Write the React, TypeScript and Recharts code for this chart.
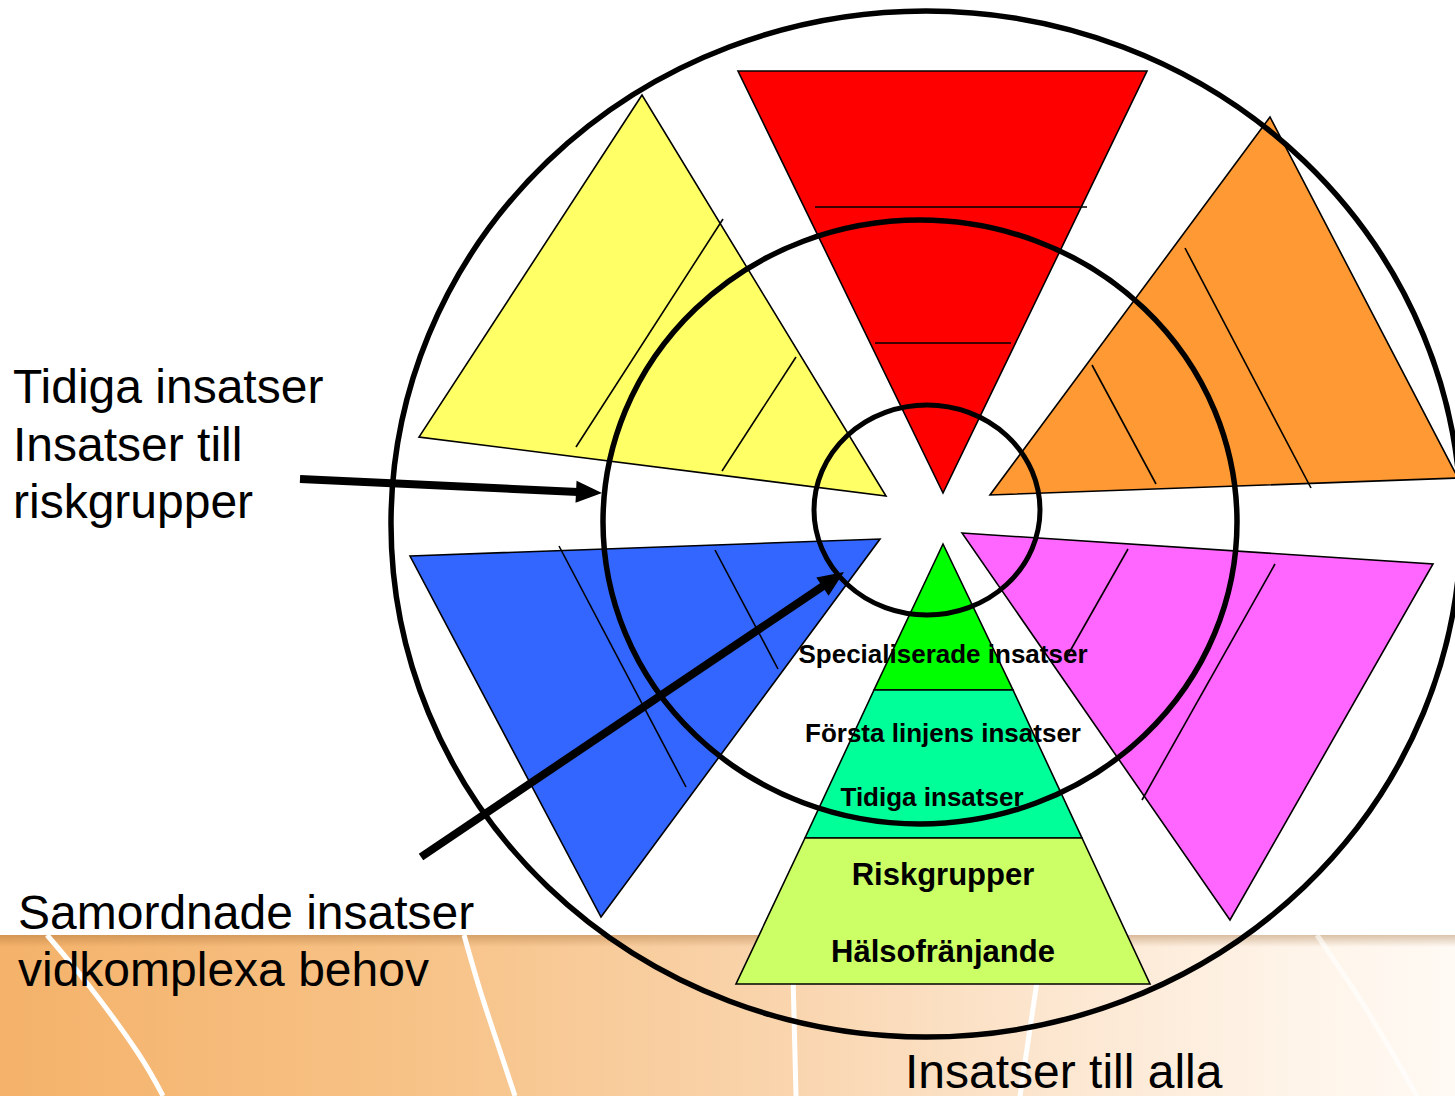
import { ComposedChart, Scatter, XAxis, YAxis } from 'recharts';

type Pt = { x: number; y: number };

// diagram units: x 0..1455 left to right, y 0..1096 top to bottom

// triangles around the wheel
const RED: Pt[] = [{ x: 738, y: 71 }, { x: 1147, y: 71 }, { x: 943, y: 493 }];
const YELLOW: Pt[] = [{ x: 642, y: 95 }, { x: 419, y: 437 }, { x: 886, y: 496 }];
const ORANGE: Pt[] = [{ x: 1270, y: 117 }, { x: 990, y: 495 }, { x: 1458, y: 478 }];
const BLUE: Pt[] = [{ x: 410, y: 556 }, { x: 880, y: 539 }, { x: 601, y: 917 }];
const MAGENTA: Pt[] = [{ x: 962, y: 533 }, { x: 1433, y: 564 }, { x: 1230, y: 920 }];

// thin lines inside the triangles (pairs of end points)
const RED_LINES: Pt[] = [
  { x: 815, y: 207 }, { x: 1087, y: 207 },
  { x: 875, y: 343 }, { x: 1011, y: 343 },
];
const YELLOW_LINES: Pt[] = [
  { x: 723, y: 219 }, { x: 576, y: 447 },
  { x: 796, y: 357 }, { x: 722, y: 471 },
];
const ORANGE_LINES: Pt[] = [
  { x: 1185, y: 248 }, { x: 1311, y: 488 },
  { x: 1092, y: 365 }, { x: 1156, y: 484 },
];
const BLUE_LINES: Pt[] = [
  { x: 559, y: 546 }, { x: 686, y: 787 },
  { x: 715, y: 550 }, { x: 778, y: 669 },
];
const MAGENTA_LINES: Pt[] = [
  { x: 1128, y: 549 }, { x: 1065, y: 660 },
  { x: 1275, y: 564 }, { x: 1142, y: 800 },
];

// pyramid layers
const PYR_TOP: Pt[] = [{ x: 943, y: 544 }, { x: 1013, y: 690 }, { x: 874, y: 690 }];
const PYR_MID: Pt[] = [{ x: 874, y: 690 }, { x: 1013, y: 690 }, { x: 1082, y: 838 }, { x: 805, y: 838 }];
const PYR_BASE: Pt[] = [{ x: 805, y: 838 }, { x: 1082, y: 838 }, { x: 1150, y: 984 }, { x: 736, y: 984 }];

// rings: centre, right edge, top edge
const OUTER_RING: Pt[] = [{ x: 926, y: 524 }, { x: 1461, y: 524 }, { x: 926, y: 11 }];
const MIDDLE_RING: Pt[] = [{ x: 920, y: 522 }, { x: 1237, y: 522 }, { x: 920, y: 220 }];
const INNER_RING: Pt[] = [{ x: 927, y: 510 }, { x: 1040, y: 510 }, { x: 927, y: 405 }];

// arrows: start, tip
const ARROW_RISK: Pt[] = [{ x: 300, y: 479 }, { x: 602, y: 493 }];
const ARROW_COMPLEX: Pt[] = [{ x: 421, y: 857 }, { x: 844, y: 572 }];

// white streaks on the bottom band
const STREAK_A: Pt[] = [{ x: 47, y: 935 }, { x: 90, y: 987 }, { x: 138, y: 1053 }, { x: 163, y: 1096 }];
const STREAK_B: Pt[] = [{ x: 464, y: 935 }, { x: 480, y: 990 }, { x: 498, y: 1045 }, { x: 515, y: 1096 }];
const STREAK_C: Pt[] = [{ x: 792, y: 935 }, { x: 794, y: 1015 }, { x: 796, y: 1096 }];
const STREAK_D: Pt[] = [{ x: 1044, y: 935 }, { x: 1032, y: 1015 }, { x: 1020, y: 1096 }];
const STREAK_E: Pt[] = [{ x: 1317, y: 935 }, { x: 1368, y: 1012 }, { x: 1417, y: 1096 }];

type Label = Pt & { text: string; size: number; bold?: boolean; anchor?: 'start' | 'middle' };

const SIDE_LABELS: Label[] = [
  { x: 13, y: 403, text: 'Tidiga insatser', size: 48 },
  { x: 13, y: 461, text: 'Insatser till', size: 48 },
  { x: 13, y: 518, text: 'riskgrupper', size: 48 },
  { x: 18, y: 929, text: 'Samordnade insatser', size: 48 },
  { x: 18, y: 986, text: 'vidkomplexa behov', size: 48 },
  { x: 905, y: 1088, text: 'Insatser till alla', size: 48 },
];

const PYRAMID_LABELS: Label[] = [
  { x: 943, y: 663, text: 'Specialiserade insatser', size: 26, bold: true, anchor: 'middle' },
  { x: 943, y: 742, text: 'Första linjens insatser', size: 26, bold: true, anchor: 'middle' },
  { x: 932, y: 806, text: 'Tidiga insatser', size: 26, bold: true, anchor: 'middle' },
  { x: 943, y: 885, text: 'Riskgrupper', size: 31, bold: true, anchor: 'middle' },
  { x: 943, y: 962, text: 'Hälsofränjande', size: 31, bold: true, anchor: 'middle' },
];

const FONT = '"Liberation Sans", Arial, sans-serif';

const noDot = () => <g />;

const polygonLine = (fill: string) => (p: any) => (
  <polygon
    points={p.points.map((q: Pt) => `${q.x},${q.y}`).join(' ')}
    fill={fill}
    stroke="#000"
    strokeWidth={1.6}
    strokeLinejoin="miter"
  />
);

const segmentsLine = (p: any) => {
  const pts: Pt[] = p.points;
  const out = [];
  for (let i = 0; i + 1 < pts.length; i += 2) {
    out.push(
      <line key={i} x1={pts[i].x} y1={pts[i].y} x2={pts[i + 1].x} y2={pts[i + 1].y} stroke="#000" strokeWidth={1.6} />
    );
  }
  return <g>{out}</g>;
};

const ringLine = (width: number) => (p: any) => {
  const [c, r, t] = p.points as Pt[];
  return (
    <ellipse
      cx={c.x}
      cy={c.y}
      rx={Math.abs(r.x - c.x)}
      ry={Math.abs(c.y - t.y)}
      fill="none"
      stroke="#000"
      strokeWidth={width}
    />
  );
};

const arrowLine = (p: any) => {
  const [a, b] = p.points as Pt[];
  const dx = b.x - a.x;
  const dy = b.y - a.y;
  const len = Math.sqrt(dx * dx + dy * dy);
  const ux = dx / len;
  const uy = dy / len;
  const headLen = 26;
  const half = 11;
  const bx = b.x - ux * headLen;
  const by = b.y - uy * headLen;
  return (
    <g>
      <line x1={a.x} y1={a.y} x2={bx + ux * 2} y2={by + uy * 2} stroke="#000" strokeWidth={8} />
      <polygon
        points={`${b.x},${b.y} ${bx - uy * half},${by + ux * half} ${bx + uy * half},${by - ux * half}`}
        fill="#000"
      />
    </g>
  );
};

const labelDot = (p: any) => {
  const d: Label = p.payload;
  return (
    <text
      x={p.cx}
      y={p.cy}
      fontFamily={FONT}
      fontSize={d.size}
      fontWeight={d.bold ? 700 : 400}
      textAnchor={d.anchor ?? 'start'}
      fill="#000"
    >
      {d.text}
    </text>
  );
};

function Shape({ data, line, lineJointType }: { data: Pt[]; line: any; lineJointType?: any }) {
  return (
    <Scatter
      data={data}
      line={line}
      lineType="joint"
      lineJointType={lineJointType}
      shape={noDot}
      isAnimationActive={false}
      legendType="none"
    />
  );
}

export default function App() {
  const streak = { stroke: '#ffffff', strokeWidth: 5 };
  return (
    <div
      style={{
        position: 'absolute',
        left: 0,
        top: 0,
        width: 1455,
        height: 1096,
        overflow: 'hidden',
        background: '#ffffff',
        fontFamily: FONT,
      }}
    >
      <div
        style={{
          position: 'absolute',
          left: 0,
          top: 935,
          width: 1455,
          height: 161,
          background:
            'linear-gradient(to bottom, rgba(150,95,40,0.35) 0px, rgba(150,95,40,0) 12px), linear-gradient(to right, #f4b26a 0%, #f7c286 28%, #f9d3aa 52%, #fce6cf 72%, #fef3e7 88%, #fffaf4 100%)',
        }}
      />
      <div style={{ position: 'absolute', left: 0, top: 0 }}>
        <ComposedChart width={1455} height={1096} margin={{ top: 0, right: 0, bottom: 0, left: 0 }}>
          <XAxis type="number" dataKey="x" domain={[0, 1455]} allowDataOverflow hide />
          <YAxis type="number" dataKey="y" domain={[0, 1096]} allowDataOverflow reversed hide />

          {/* background streaks */}
          <Scatter data={STREAK_A} line={streak} lineType="joint" lineJointType="natural" shape={noDot} isAnimationActive={false} legendType="none" />
          <Scatter data={STREAK_B} line={streak} lineType="joint" lineJointType="natural" shape={noDot} isAnimationActive={false} legendType="none" />
          <Scatter data={STREAK_C} line={streak} lineType="joint" lineJointType="natural" shape={noDot} isAnimationActive={false} legendType="none" />
          <Scatter data={STREAK_D} line={streak} lineType="joint" lineJointType="natural" shape={noDot} isAnimationActive={false} legendType="none" />
          <Scatter data={STREAK_E} line={{ stroke: '#ffffff', strokeWidth: 5, strokeOpacity: 0.6 }} lineType="joint" lineJointType="natural" shape={noDot} isAnimationActive={false} legendType="none" />

          {/* wheel triangles */}
          {Shape({ data: RED, line: polygonLine('#ff0000') })}
          {Shape({ data: YELLOW, line: polygonLine('#ffff66') })}
          {Shape({ data: ORANGE, line: polygonLine('#ff9933') })}
          {Shape({ data: BLUE, line: polygonLine('#3366ff') })}
          {Shape({ data: MAGENTA, line: polygonLine('#ff66ff') })}

          {Shape({ data: RED_LINES, line: segmentsLine })}
          {Shape({ data: YELLOW_LINES, line: segmentsLine })}
          {Shape({ data: ORANGE_LINES, line: segmentsLine })}
          {Shape({ data: BLUE_LINES, line: segmentsLine })}
          {Shape({ data: MAGENTA_LINES, line: segmentsLine })}

          {/* pyramid */}
          {Shape({ data: PYR_TOP, line: polygonLine('#00ff00') })}
          {Shape({ data: PYR_MID, line: polygonLine('#00ff99') })}
          {Shape({ data: PYR_BASE, line: polygonLine('#ccff66') })}

          {/* rings */}
          {Shape({ data: OUTER_RING, line: ringLine(5.5) })}
          {Shape({ data: MIDDLE_RING, line: ringLine(5.5) })}
          {Shape({ data: INNER_RING, line: ringLine(5) })}

          {/* arrows */}
          {Shape({ data: ARROW_RISK, line: arrowLine })}
          {Shape({ data: ARROW_COMPLEX, line: arrowLine })}

          {/* texts */}
          <Scatter data={SIDE_LABELS} shape={labelDot} isAnimationActive={false} legendType="none" />
          <Scatter data={PYRAMID_LABELS} shape={labelDot} isAnimationActive={false} legendType="none" />
        </ComposedChart>
      </div>
    </div>
  );
}
